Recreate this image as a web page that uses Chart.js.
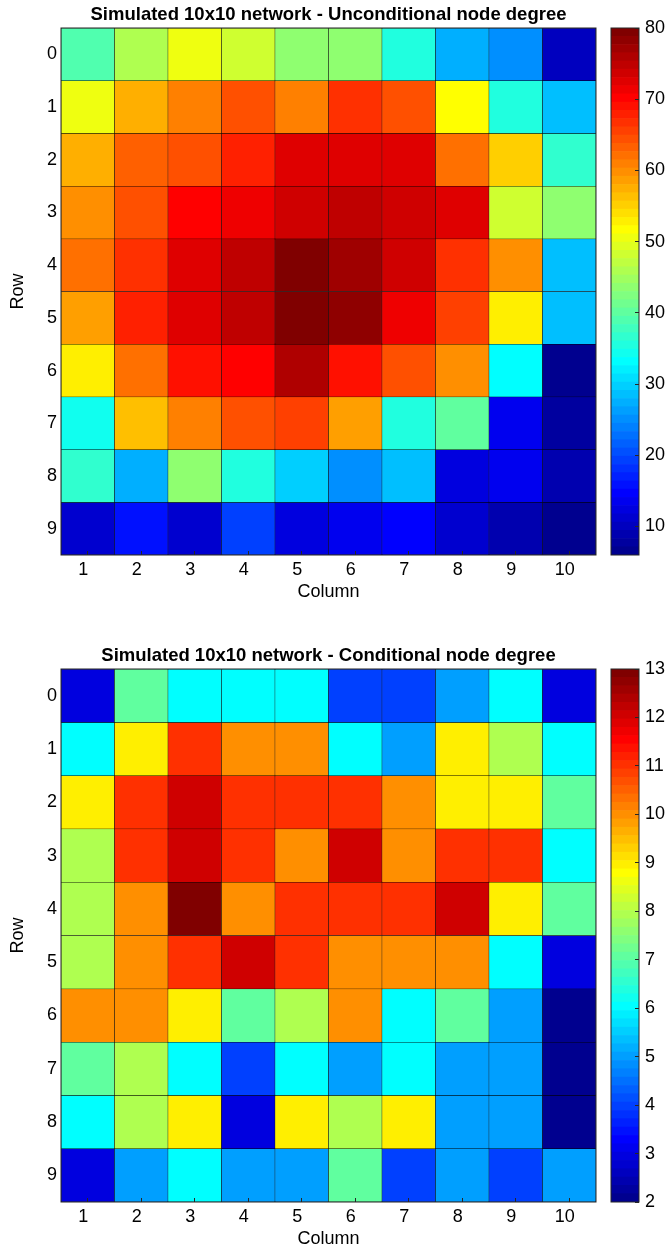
<!DOCTYPE html>
<html>
<head>
<meta charset="utf-8">
<script src="https://cdn.jsdelivr.net/npm/chart.js@4.4.1/dist/chart.umd.min.js"></script>
<style>
  html, body { margin: 0; padding: 0; background: #ffffff; width: 669px; height: 1249px; overflow: hidden; }
  body { position: relative; }
  canvas { position: absolute; }
</style>
</head>
<body>
<canvas id="heatUncond" width="600" height="610" style="left:0px;top:0px"></canvas>
<canvas id="barUncond" width="69" height="610" style="left:600px;top:0px"></canvas>
<canvas id="heatCond" width="600" height="616" style="left:0px;top:641px"></canvas>
<canvas id="barCond" width="69" height="616" style="left:600px;top:641px"></canvas>
<script>
// Grid labels
const columnLabels = ['1', '2', '3', '4', '5', '6', '7', '8', '9', '10'];
const rowLabels = ['0', '1', '2', '3', '4', '5', '6', '7', '8', '9'];

// Unconditional node degree, one array per row (row 0 first)
const unconditionalDegree = [
  [39, 46, 51, 48, 44, 44, 35, 27, 25, 10],
  [51, 57, 61, 64, 61, 67, 64, 52, 35, 29],
  [57, 63, 64, 68, 72, 72, 72, 62, 55, 37],
  [60, 64, 70, 71, 74, 75, 74, 72, 48, 44],
  [62, 67, 72, 75, 80, 77, 74, 67, 60, 29],
  [59, 68, 72, 75, 79, 78, 71, 66, 53, 29],
  [53, 62, 69, 70, 76, 69, 64, 60, 33, 6],
  [34, 56, 61, 64, 66, 59, 35, 40, 14, 8],
  [37, 27, 44, 35, 30, 25, 29, 12, 14, 9],
  [11, 16, 11, 19, 12, 14, 15, 11, 9, 6]
];

// Conditional node degree, one array per row (row 0 first)
const conditionalDegree = [
  [3, 7, 6, 6, 6, 4, 4, 5, 6, 3],
  [6, 9, 11, 10, 10, 6, 5, 9, 8, 6],
  [9, 11, 12, 11, 11, 11, 10, 9, 9, 7],
  [8, 11, 12, 11, 10, 12, 10, 11, 11, 6],
  [8, 10, 13, 10, 11, 11, 11, 12, 9, 7],
  [8, 10, 11, 12, 11, 10, 10, 10, 6, 3],
  [10, 10, 9, 7, 8, 10, 6, 7, 5, 2],
  [7, 8, 6, 4, 6, 5, 6, 5, 5, 2],
  [6, 8, 9, 3, 9, 8, 9, 5, 5, 2],
  [3, 5, 6, 5, 5, 7, 4, 5, 4, 5]
];

// Colour bar tick labels
const unconditionalTicks = [10, 20, 30, 40, 50, 60, 70, 80];
const conditionalTicks = [2, 3, 4, 5, 6, 7, 8, 9, 10, 11, 12, 13];

const FONT = "'Liberation Sans', Arial, Helvetica, sans-serif";
const LEVELS = 64;

// 64-step jet colour map, k = 1..64
function jetColor(k) {
  let r, g, b;
  if (k <= 8) { r = 0; g = 0; b = (k + 8) / 16; }
  else if (k <= 24) { r = 0; g = (k - 8) / 16; b = 1; }
  else if (k <= 40) { r = (k - 24) / 16; g = 1; b = (40 - k) / 16; }
  else if (k <= 55) { r = 1; g = (56 - k) / 16; b = 0; }
  else { r = (72 - k) / 16; g = 0; b = 0; }
  return 'rgb(' + Math.round(r * 255) + ',' + Math.round(g * 255) + ',' + Math.round(b * 255) + ')';
}

function levelOf(v, cmin, cmax) {
  const k = Math.floor((v - cmin) / (cmax - cmin) * LEVELS) + 1;
  return Math.min(LEVELS, Math.max(1, k));
}

// Outline of the plotting area
const framePlugin = {
  id: 'frame',
  afterDatasetsDraw(chart) {
    const a = chart.chartArea;
    const ctx = chart.ctx;
    ctx.save();
    ctx.strokeStyle = '#262626';
    ctx.lineWidth = 1;
    ctx.strokeRect(a.left, a.top, a.right - a.left, a.bottom - a.top);
    ctx.restore();
  }
};

function drawHeatmap(canvasId, values, title) {
  const flat = values.flat();
  const cmin = Math.min(...flat);
  const cmax = Math.max(...flat);

  const datasets = values.map((rowValues, r) => ({
    data: rowValues.map(() => [r - 0.5, r + 0.5]),
    backgroundColor: rowValues.map(v => jetColor(levelOf(v, cmin, cmax))),
    borderColor: '#000000',
    borderWidth: 0.5,
    borderSkipped: false,
    grouped: false,
    barPercentage: 1,
    categoryPercentage: 1
  }));

  new Chart(document.getElementById(canvasId), {
    type: 'bar',
    data: { labels: columnLabels, datasets },
    options: {
      responsive: false,
      animation: false,
      events: [],
      layout: { padding: { left: 0, right: 4, top: 0, bottom: 0 } },
      plugins: {
        legend: { display: false },
        tooltip: { enabled: false },
        title: {
          display: true,
          text: title,
          fullSize: false,
          color: '#000000',
          font: { family: FONT, size: 18.5, weight: 'bold', lineHeight: 1.2 },
          padding: { top: 3.9, bottom: 1.9 }
        }
      },
      scales: {
        x: {
          type: 'category',
          offset: true,
          grid: { display: true, drawOnChartArea: false, drawTicks: true, tickLength: -4, offset: false, color: '#262626', z: 1 },
          border: { display: false },
          ticks: { color: '#000000', font: { family: FONT, size: 18 }, padding: 8.5, labelOffset: -4.5, maxRotation: 0, autoSkip: false },
          title: { display: true, text: 'Column', color: '#000000', font: { family: FONT, size: 18, lineHeight: 1.2 }, padding: { top: 0, bottom: 7.2 } },
          afterFit(scale) { scale.height = 55; }
        },
        y: {
          type: 'linear',
          reverse: true,
          min: -0.5,
          max: 9.5,
          grid: { display: false, drawTicks: false },
          border: { display: false },
          afterBuildTicks(scale) { scale.ticks = rowLabels.map((_, i) => ({ value: i })); },
          ticks: { color: '#000000', font: { family: FONT, size: 18 }, padding: 4, callback: (v, i) => rowLabels[i] },
          title: { display: true, text: 'Row', color: '#000000', font: { family: FONT, size: 18, lineHeight: 1.2 }, padding: { top: 7.2, bottom: 0 } },
          afterFit(scale) { scale.width = 61; }
        }
      }
    },
    plugins: [framePlugin]
  });
}

function drawColorBar(canvasId, values, tickValues) {
  const flat = values.flat();
  const cmin = Math.min(...flat);
  const cmax = Math.max(...flat);
  const step = (cmax - cmin) / LEVELS;

  const datasets = [];
  for (let i = 0; i < LEVELS; i++) {
    datasets.push({
      data: [[cmin + i * step, cmin + (i + 1) * step]],
      backgroundColor: jetColor(i + 1),
      borderWidth: 0,
      grouped: false,
      barPercentage: 1,
      categoryPercentage: 1
    });
  }

  new Chart(document.getElementById(canvasId), {
    type: 'bar',
    data: { labels: [''], datasets },
    options: {
      responsive: false,
      animation: false,
      events: [],
      layout: { padding: { left: 11, right: 0, top: 28, bottom: 55 } },
      plugins: { legend: { display: false }, tooltip: { enabled: false }, title: { display: false } },
      scales: {
        x: { display: false, offset: true },
        y: {
          type: 'linear',
          position: 'right',
          min: cmin,
          max: cmax,
          grid: { display: true, drawOnChartArea: false, drawTicks: true, tickLength: -4, color: '#262626', z: 1 },
          border: { display: false },
          afterBuildTicks(scale) { scale.ticks = tickValues.map(v => ({ value: v })); },
          ticks: { color: '#000000', font: { family: FONT, size: 18 }, padding: 10 },
          afterFit(scale) { scale.width = 30; }
        }
      }
    },
    plugins: [framePlugin]
  });
}

drawHeatmap('heatUncond', unconditionalDegree, 'Simulated 10x10 network - Unconditional node degree');
drawColorBar('barUncond', unconditionalDegree, unconditionalTicks);
drawHeatmap('heatCond', conditionalDegree, 'Simulated 10x10 network - Conditional node degree');
drawColorBar('barCond', conditionalDegree, conditionalTicks);
</script>
</body>
</html>
